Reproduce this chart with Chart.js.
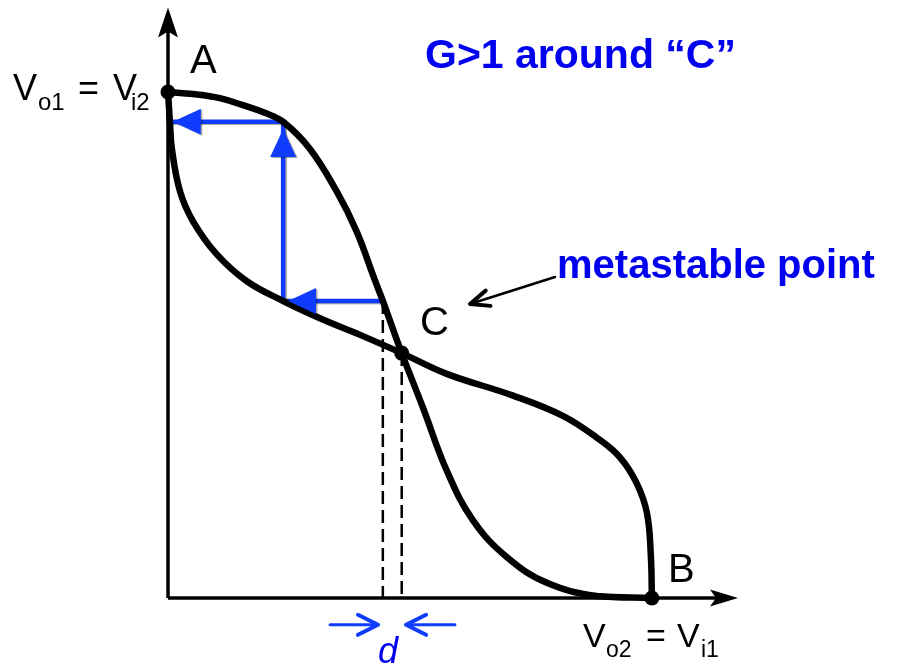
<!DOCTYPE html>
<html>
<head>
<meta charset="utf-8">
<script src="https://cdn.jsdelivr.net/npm/chart.js@4"></script>
<style>
  html, body { margin: 0; padding: 0; background: #fff; }
  canvas { display: block; }
</style>
</head>
<body>
<canvas id="latchChart" width="901" height="669"></canvas>
<script>
// normalised voltages (V / VDD)
const curve1X = [0, 0.052, 0.107, 0.155, 0.200, 0.238, 0.293, 0.349, 0.390, 0.426, 0.444, 0.483, 0.527, 0.576, 0.630, 0.700, 0.783, 0.886, 1.000];
const curve1Y = [1.000, 0.996, 0.988, 0.974, 0.959, 0.941, 0.888, 0.803, 0.724, 0.632, 0.587, 0.484, 0.376, 0.252, 0.154, 0.081, 0.030, 0.004, 0];
const curve2X = [0, 0.002, 0.004, 0.008, 0.025, 0.052, 0.101, 0.163, 0.238, 0.314, 0.397, 0.483, 0.576, 0.713, 0.816, 0.886, 0.934, 0.969, 0.990, 0.998, 1.000];
const curve2Y = [1.000, 0.970, 0.941, 0.888, 0.803, 0.744, 0.679, 0.626, 0.587, 0.553, 0.520, 0.484, 0.443, 0.400, 0.360, 0.317, 0.278, 0.226, 0.167, 0.081, 0];
const pointX = [0, 1.000, 0.483];   // A, B, C
const pointY = [1.000, 0, 0.484];
const traceX = [0.444, 0.238, 0.238, 0.004];
const traceY = [0.587, 0.587, 0.941, 0.941];
const tipX = [0.248, 0.238, 0.010];
const tipY = [0.587, 0.927, 0.941];
const dashX = [0.444, 0.483];
const dashTop = [0.587, 0.484];
const dArrowY = -0.053;
const dLeft = [0.335, 0.434];
const dRight = [0.593, 0.492];
const axisMaxX = 1.178;
const axisMaxY = 1.167;

const BLUE = '#0f3cff';
const TEXT_BLUE = '#0000f0';

const pts = (xs, ys) => xs.map((x, i) => ({ x: x, y: ys[i] }));

function arrowHead(ctx, tx, ty, dx, dy, len, half, notch, color) {
    const bx = tx - dx * len, by = ty - dy * len;
    const nx = -dy, ny = dx;
    ctx.beginPath();
    ctx.moveTo(tx, ty);
    ctx.lineTo(bx + nx * half, by + ny * half);
    ctx.lineTo(tx - dx * (len - notch), ty - dy * (len - notch));
    ctx.lineTo(bx - nx * half, by - ny * half);
    ctx.closePath();
    ctx.fillStyle = color;
    ctx.fill();
}

function openArrow(ctx, x0, y0, x1, y1, len, half, color, lw, headLw) {
    const L = Math.hypot(x1 - x0, y1 - y0);
    const dx = (x1 - x0) / L, dy = (y1 - y0) / L;
    ctx.strokeStyle = color;
    ctx.lineCap = 'round';
    ctx.lineJoin = 'round';
    ctx.lineWidth = lw;
    ctx.beginPath();
    ctx.moveTo(x0, y0);
    ctx.lineTo(x1, y1);
    ctx.stroke();
    ctx.lineWidth = headLw;
    ctx.beginPath();
    ctx.moveTo(x1 - dx * len - dy * half, y1 - dy * len + dx * half);
    ctx.lineTo(x1, y1);
    ctx.lineTo(x1 - dx * len + dy * half, y1 - dy * len - dx * half);
    ctx.stroke();
}

function subLabel(ctx, parts, size, subSize, color) {
    // parts: [text, x, baseline, isSub]
    ctx.fillStyle = color;
    ctx.textAlign = 'left';
    ctx.textBaseline = 'alphabetic';
    parts.forEach(p => {
        ctx.font = (p[3] ? subSize : size) + 'px "Liberation Sans", Arial, sans-serif';
        ctx.fillText(p[0], p[1], p[2]);
    });
}

const decor = {
    id: 'decor',
    beforeDatasetDraw(chart, args) {
        if (args.meta.label === 'trace') {
            const ctx = chart.ctx;
            ctx.save();
            ctx.shadowColor = 'rgba(0,0,0,0.35)';
            ctx.shadowOffsetX = 1.5;
            ctx.shadowOffsetY = 1;
            ctx.shadowBlur = 1;
        }
    },
    afterDatasetDraw(chart, args) {
        if (args.meta.label === 'trace') chart.ctx.restore();
    },
    afterDatasetsDraw(chart) {
        const ctx = chart.ctx;
        const xs = chart.scales.x, ys = chart.scales.y;
        const px = v => xs.getPixelForValue(v);
        const py = v => ys.getPixelForValue(v);
        ctx.save();

        // axis arrow heads
        arrowHead(ctx, px(0), py(axisMaxY), 0, -1, 30, 10, 6, '#000');
        arrowHead(ctx, px(axisMaxX), py(0), 1, 0, 28, 8.5, 6, '#000');

        // blue arrow heads on the trace
        ctx.shadowColor = 'rgba(0,0,0,0.35)';
        ctx.shadowOffsetX = 1.5;
        ctx.shadowOffsetY = 1;
        ctx.shadowBlur = 1;
        for (let i = 0; i < tipX.length; i++) {
            const x0 = px(traceX[i]), y0 = py(traceY[i]);
            const x1 = px(tipX[i]), y1 = py(tipY[i]);
            const L = Math.hypot(x1 - x0, y1 - y0);
            arrowHead(ctx, x1, y1, (x1 - x0) / L, (y1 - y0) / L, 28, 13, 0, BLUE);
        }
        ctx.shadowColor = 'transparent';

        // d arrows
        openArrow(ctx, px(dLeft[0]), py(dArrowY), px(dLeft[1]), py(dArrowY), 20, 10, BLUE, 3, 4);
        openArrow(ctx, px(dRight[0]), py(dArrowY), px(dRight[1]), py(dArrowY), 20, 10, BLUE, 3, 4);

        // metastable pointer
        openArrow(ctx, 555, 277, 470, 304, 19, 8, '#000', 2.5, 4);

        // labels
        ctx.fillStyle = '#000';
        ctx.font = '40px "Liberation Sans", Arial, sans-serif';
        ctx.fillText('A', 190, 73);
        ctx.fillText('B', 668, 582);
        ctx.fillText('C', 420, 335);

        subLabel(ctx, [['V', 13, 100, false], ['o1', 38, 110, true], ['=', 78, 100, false],
                       ['V', 113, 100, false], ['i2', 131, 110, true]], 36, 24, '#000');
        subLabel(ctx, [['V', 583, 647, false], ['o2', 606, 657, true], ['=', 646, 647, false],
                       ['V', 677, 647, false], ['i1', 701, 657, true]], 34, 23, '#000');

        ctx.fillStyle = TEXT_BLUE;
        ctx.font = 'bold 41px "Liberation Sans", Arial, sans-serif';
        ctx.fillText('G>1 around \u201CC\u201D', 425, 68);
        ctx.font = 'bold 40px "Liberation Sans", Arial, sans-serif';
        ctx.fillText('metastable point', 557, 278);
        ctx.font = 'italic 36px "Liberation Sans", Arial, sans-serif';
        ctx.fillText('d', 378, 663);

        ctx.restore();
    }
};

const lineDs = (label, data, color, width, extra) => Object.assign({
    label: label,
    data: data,
    showLine: true,
    borderColor: color,
    borderWidth: width,
    pointRadius: 0,
    fill: false,
    clip: false
}, extra || {});

new Chart(document.getElementById('latchChart'), {
    type: 'scatter',
    data: {
        datasets: [
            { label: 'points', data: pts(pointX, pointY), pointRadius: 7.5, backgroundColor: '#000',
              borderWidth: 0, clip: false },
            lineDs('curve1', pts(curve1X, curve1Y), '#000', 6.5, { tension: 0.4, borderCapStyle: 'round' }),
            lineDs('curve2', pts(curve2X, curve2Y), '#000', 6.5, { tension: 0.4, borderCapStyle: 'round' }),
            lineDs('trace', pts(traceX, traceY), BLUE, 4.5, { borderJoinStyle: 'miter' }),
            lineDs('dash1', [{ x: dashX[0], y: dashTop[0] }, { x: dashX[0], y: 0 }], '#000', 2.5, { borderDash: [13, 6] }),
            lineDs('dash2', [{ x: dashX[1], y: dashTop[1] }, { x: dashX[1], y: 0 }], '#000', 2.5, { borderDash: [13, 6] }),
            lineDs('xAxis', [{ x: 0, y: 0 }, { x: axisMaxX - 0.03, y: 0 }], '#000', 3.5),
            lineDs('yAxis', [{ x: 0, y: 0 }, { x: 0, y: axisMaxY - 0.03 }], '#000', 3.5)
        ]
    },
    options: {
        responsive: false,
        animation: false,
        layout: { padding: { left: 168, right: 163, top: 5, bottom: 71 } },
        plugins: { legend: { display: false }, tooltip: { enabled: false } },
        scales: {
            x: { type: 'linear', min: 0, max: axisMaxX, display: false },
            y: { type: 'linear', min: 0, max: axisMaxY, display: false }
        }
    },
    plugins: [decor]
});
</script>
</body>
</html>
